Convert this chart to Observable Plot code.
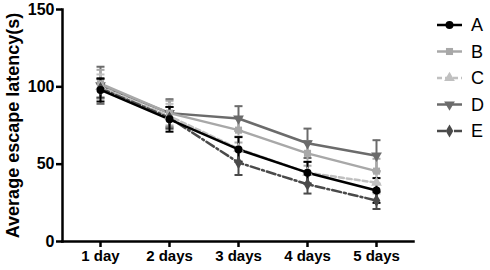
<!DOCTYPE html>
<html><head><meta charset="utf-8">
<script src="https://cdn.jsdelivr.net/npm/d3@7"></script>
<script src="https://cdn.jsdelivr.net/npm/@observablehq/plot@0.6"></script>
<style>
html,body{margin:0;padding:0;background:#fff;}
#wrap{position:relative;width:490px;height:270px;font-family:"Liberation Sans",Arial,sans-serif;}
#legend{position:absolute;left:0;top:0;}
</style></head>
<body><div id="wrap"></div>
<script>
const days = ["1 day","2 days","3 days","4 days","5 days"];
const seriesNames = ["A","B","C","D","E"];
const A = [98, 79, 59.5, 44.5, 33];
const A_err = [7.5, 8, 8, 7, 8];
const B = [102, 83, 72, 57, 45.5];
const B_err = [9, 8, 8, 8, 8];
const C = [100, 81, 60, 44.5, 38];
const C_err = [8, 8, 8, 7, 7];
const D = [101, 83, 79.5, 63.5, 55.5];
const D_err = [12, 9, 8, 9.5, 10];
const E = [99, 80, 51, 37, 26.5];
const E_err = [6, 7, 8, 6, 5.5];
const yTicks = [0, 50, 100, 150];

const styles = {
  A: {color:"#000000", dash:null, symbol:"circle", rotate:0, r:4},
  B: {color:"#a8a8a8", dash:null, symbol:"square", rotate:0, r:4},
  C: {color:"#c0c0c0", dash:"5,3", symbol:"triangle", rotate:0, r:4},
  D: {color:"#6b6b6b", dash:null, symbol:"triangle", rotate:180, r:4},
  E: {color:"#4a4a4a", dash:"9,3,2,3", symbol:"diamond", rotate:0, r:4}
};
const vals = {A, B, C, D, E};
const errs = {A:A_err, B:B_err, C:C_err, D:D_err, E:E_err};
const rows = {};
for (const s of seriesNames) rows[s] = days.map((d,i)=>({day:d, v:vals[s][i], lo:vals[s][i]-errs[s][i], hi:vals[s][i]+errs[s][i]}));

const cap = {draw(ctx, size){const h=Math.sqrt(size/Math.PI); ctx.moveTo(-h,0); ctx.lineTo(h,0);}};

const order = ["D","B","C","E","A"];
const marks = [];
for (const s of order) {
  const st = styles[s];
  marks.push(Plot.ruleX(rows[s], {x:"day", y1:"lo", y2:"hi", stroke:st.color, strokeWidth:2}));
  marks.push(Plot.dot(rows[s], {x:"day", y:"hi", symbol:cap, r:4, stroke:st.color, strokeWidth:2, fill:"none"}));
  marks.push(Plot.dot(rows[s], {x:"day", y:"lo", symbol:cap, r:4, stroke:st.color, strokeWidth:2, fill:"none"}));
}
for (const s of order) {
  const st = styles[s];
  marks.push(Plot.line(rows[s], {x:"day", y:"v", stroke:st.color, strokeWidth:2.5, strokeDasharray:st.dash}));
}
for (const s of order) {
  const st = styles[s];
  marks.push(Plot.dot(rows[s], {x:"day", y:"v", symbol:st.symbol, rotate:st.rotate, r:st.r, fill:st.color, stroke:"none"}));
}
marks.push(Plot.axisY({ticks:yTicks, tickSize:6, tickPadding:2, fontSize:16, fontWeight:"bold", fill:"#000", label:null, strokeWidth:2.5}));
marks.push(Plot.axisX({tickSize:6, tickPadding:3, fontSize:15, fontWeight:"bold", fill:"#000", label:null, strokeWidth:2.5}));
marks.push(Plot.frame({anchor:"left", stroke:"#000", strokeWidth:2.5}));
marks.push(Plot.frame({anchor:"bottom", stroke:"#000", strokeWidth:2.5}));
marks.push(Plot.text(["Average escape latency(s)"], {frameAnchor:"left", textAnchor:"middle", dx:-49, rotate:-90, fontSize:18, fontWeight:"bold", fill:"#000"}));

const chart = Plot.plot({
  width:490, height:270,
  marginLeft:62, marginTop:9, marginBottom:29, marginRight:77,
  style:{fontFamily:"'Liberation Sans', Arial, sans-serif", color:"#000", background:"#fff", overflow:"visible"},
  x:{type:"point", domain:days, padding:0.53},
  y:{domain:[0,150]},
  marks
});
const wrap = document.getElementById("wrap");
wrap.appendChild(chart);

// legend
const lg = d3.select(wrap).append("svg").attr("id","legend").attr("width",490).attr("height",270);
seriesNames.forEach((s,i)=>{
  const st = styles[s];
  const y = 25 + i*26.5;
  const g = lg.append("g").attr("transform",`translate(0,${y})`);
  g.append("line").attr("x1",437).attr("x2",462).attr("y1",0).attr("y2",0)
    .attr("stroke",st.color).attr("stroke-width",2.5).attr("stroke-dasharray",st.dash);
  const sym = {circle:d3.symbolCircle, square:d3.symbolSquare, triangle:d3.symbolTriangle, diamond:d3.symbolDiamond}[st.symbol];
  g.append("path").attr("d", d3.symbol(sym, 50)()).attr("transform",`translate(449.5,0) rotate(${st.rotate})`).attr("fill",st.color);
  g.append("text").attr("x",471).attr("y",0).attr("dy","0.35em").attr("font-size",18)
    .attr("font-family","'Liberation Sans', Arial, sans-serif").attr("fill","#000").text(s);
});
</script></body></html>
